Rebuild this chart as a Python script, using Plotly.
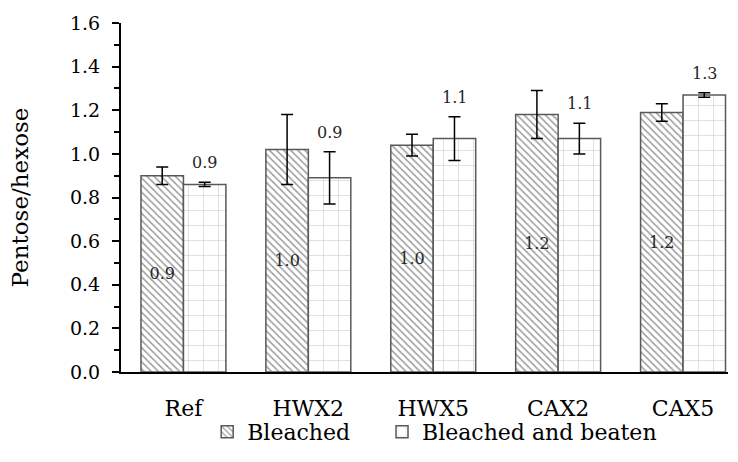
import plotly.graph_objects as go

categories = ["Ref", "HWX2", "HWX5", "CAX2", "CAX5"]
bleached = [0.90, 1.02, 1.04, 1.18, 1.19]
bleached_err = [0.04, 0.16, 0.05, 0.11, 0.04]
beaten = [0.86, 0.89, 1.07, 1.07, 1.27]
beaten_err = [0.01, 0.12, 0.10, 0.07, 0.01]

FONT = "DejaVu Serif"
OUTLINE = "#595959"
LABEL = "#262626"

fig = go.Figure()

fig.add_trace(go.Bar(
    name="Bleached", legend="legend",
    x=categories, y=bleached,
    error_y=dict(type="data", array=bleached_err, color="black", thickness=1.5, width=6),
    marker=dict(color="white", line=dict(color=OUTLINE, width=1.5),
                pattern=dict(shape="\\", fgcolor="#3a3a3a", bgcolor="white", size=5, solidity=0.3)),
    text=[f"{v:.1f}" for v in bleached],
    textposition="inside", insidetextanchor="middle", textangle=0,
    textfont=dict(family=FONT, size=16, color=LABEL),
))

fig.add_trace(go.Bar(
    name="Bleached and beaten", legend="legend2",
    x=categories, y=beaten,
    error_y=dict(type="data", array=beaten_err, color="black", thickness=1.5, width=6),
    marker=dict(color="white", line=dict(color=OUTLINE, width=1.5),
                pattern=dict(shape="+", fgcolor="#9a9a9a", bgcolor="white", size=15, solidity=0.08)),
))

# value labels above the beaten bars, clear of the error bars
for i, (v, e) in enumerate(zip(beaten, beaten_err)):
    fig.add_annotation(
        x=i, y=v + e, xref="x", yref="y", xshift=21, yshift=8,
        text=f"{v:.1f}", showarrow=False, yanchor="bottom", xanchor="center",
        font=dict(family=FONT, size=16, color=LABEL),
    )

legend_style = dict(orientation="h", xanchor="left", y=0.065, yref="container",
                    yanchor="middle", bgcolor="rgba(0,0,0,0)",
                    font=dict(family=FONT, size=22, color="black"))

fig.update_layout(
    width=738, height=462,
    margin=dict(l=121, r=10, t=23, b=90, autoexpand=False),
    plot_bgcolor="white", paper_bgcolor="white",
    barmode="group", bargap=0.32, bargroupgap=0,
    font=dict(family=FONT, size=19, color="black"),
    legend=dict(x=0.142, **legend_style),
    legend2=dict(x=0.43, **legend_style),
    showlegend=True,
)

fig.update_xaxes(
    range=[-0.5, 4.36], showline=True, linecolor="black", linewidth=2,
    ticks="", tickfont=dict(family=FONT, size=22, color="black"), showgrid=False,
    ticklabelstandoff=16, automargin=False,
)
fig.update_yaxes(
    range=[0, 1.6], dtick=0.2, tickformat=".1f", showline=True, linecolor="black",
    linewidth=2, ticks="outside", ticklen=7, tickwidth=1.5, tickcolor="black",
    minor=dict(dtick=0.1, ticks="outside", ticklen=5, tickwidth=1.5, tickcolor="black", showgrid=False),
    showgrid=False, zeroline=False, tickfont=dict(family=FONT, size=19, color="black"),
    ticklabelstandoff=8, automargin=False,
    title=dict(text="Pentose/hexose", font=dict(family=FONT, size=23, color="black"), standoff=35),
)

fig.write_html("out.html")
